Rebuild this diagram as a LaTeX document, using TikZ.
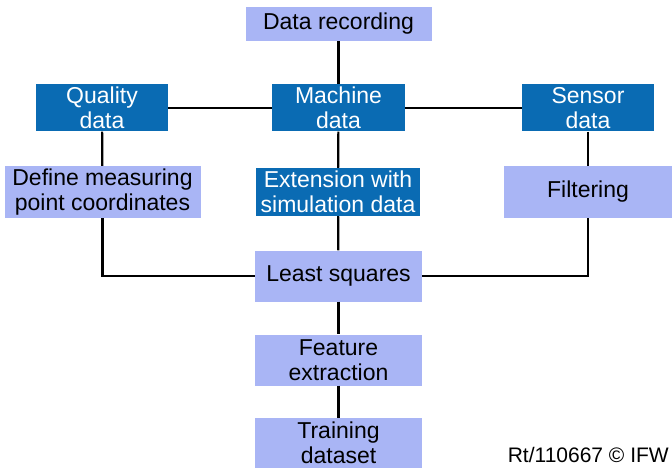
\documentclass[tikz,border=0pt]{standalone}
\usepackage{fontspec}
\setmainfont{Liberation Sans}
\definecolor{dblue}{HTML}{0A6BB3}
\definecolor{lblue}{HTML}{A9B5F5}
\begin{document}
\begin{tikzpicture}[x=1pt,y=-1pt,
  box/.style={inner sep=0pt,align=center,font=\fontsize{23}{25}\selectfont},
  dark/.style={box,fill=dblue,text=white},
  light/.style={box,fill=lblue,text=black},
  conn/.style={line width=2.2pt,black}]
\useasboundingbox (0,0) rectangle (672,468);
\node[light,minimum width=186pt,minimum height=34pt] (dr) at (338.5,24) {Data recording};
\node[dark,minimum width=132pt,minimum height=47pt] (qd) at (102,108) {Quality\\data};
\node[dark,minimum width=133pt,minimum height=47pt] (md) at (338.5,108) {Machine\\data};
\node[dark,minimum width=132pt,minimum height=47pt] (sd) at (588,108) {Sensor\\data};
\node[light,minimum width=196pt,minimum height=52pt] (def) at (102.5,192) {Define measuring\\point coordinates};
\node[dark,minimum width=164pt,minimum height=48pt] (ext) at (338,192) {Extension with\\simulation data};
\node[light,minimum width=168pt,minimum height=52pt] (fil) at (588,192) {Filtering};
\node[light,minimum width=167pt,minimum height=51pt] (ls) at (338.5,276) {Least squares};
\node[light,minimum width=167pt,minimum height=51pt] (fe) at (338.5,360) {Feature\\extraction};
\node[light,minimum width=167pt,minimum height=50pt] (td) at (338.5,443) {Training\\dataset};
\node[inner sep=0pt,anchor=east,font=\fontsize{21}{24}\selectfont] (cr) at (669,455) {Rt/110667 © IFW};
\draw[conn] (dr) -- (md);
\draw[conn] (qd) -- (md);
\draw[conn] (md) -- (sd);
\draw[conn] (qd) -- (def);
\draw[conn] (md) -- (ext);
\draw[conn] (sd) -- (fil);
\draw[conn] (def.south) |- (ls.west);
\draw[conn] (fil.south) |- (ls.east);
\draw[conn] (ext) -- (ls);
\draw[conn] (ls) -- (fe);
\draw[conn] (fe) -- (td);
\end{tikzpicture}
\end{document}
